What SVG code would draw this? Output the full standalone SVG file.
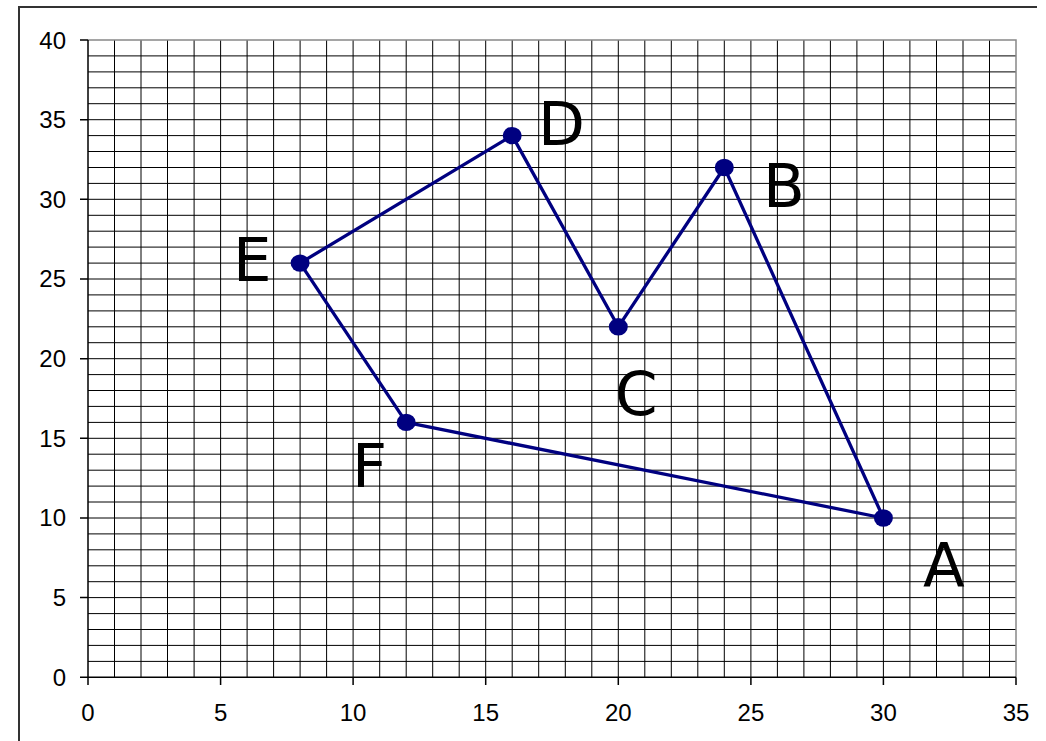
<svg xmlns="http://www.w3.org/2000/svg" width="1046" height="741" viewBox="0 0 1046 741">
<style>
.frame{fill:none;stroke:#333;stroke-width:2}
.grid{fill:none;stroke:#000;stroke-width:1}
.pborder{fill:none;stroke:#888;stroke-width:1.5}
.axis{fill:none;stroke:#000;stroke-width:1.5}
.num{font-family:"Liberation Sans",Arial,sans-serif;font-size:24px;fill:#000}
.ylab{text-anchor:end}
.xlab{text-anchor:middle}
.pt{fill:#000080}
.lbl{font-family:"DejaVu Sans",Verdana,sans-serif;font-size:61px;fill:#000}
.poly{fill:none;stroke:#000080;stroke-width:3.3;stroke-linejoin:round}
</style>
<rect width="1046" height="741" fill="#fff"/>
<path class="frame" d="M19,741 V7 H1037"/>
<g id="grid">
<path class="grid" d="M114.5,40V677.3M141,40V677.3M167.5,40V677.3M194.1,40V677.3M220.6,40V677.3M247.1,40V677.3M273.6,40V677.3M300.1,40V677.3M326.6,40V677.3M353.1,40V677.3M379.7,40V677.3M406.2,40V677.3M432.7,40V677.3M459.2,40V677.3M485.7,40V677.3M512.2,40V677.3M538.7,40V677.3M565.3,40V677.3M591.8,40V677.3M618.3,40V677.3M644.8,40V677.3M671.3,40V677.3M697.8,40V677.3M724.3,40V677.3M750.9,40V677.3M777.4,40V677.3M803.9,40V677.3M830.4,40V677.3M856.9,40V677.3M883.4,40V677.3M909.9,40V677.3M936.5,40V677.3M963,40V677.3M989.5,40V677.3"/>
<path class="grid" d="M88,661.4H1016M88,645.4H1016M88,629.5H1016M88,613.6H1016M88,597.6H1016M88,581.7H1016M88,565.8H1016M88,549.8H1016M88,533.9H1016M88,518H1016M88,502H1016M88,486.1H1016M88,470.2H1016M88,454.2H1016M88,438.3H1016M88,422.4H1016M88,406.4H1016M88,390.5H1016M88,374.6H1016M88,358.7H1016M88,342.7H1016M88,326.8H1016M88,310.9H1016M88,294.9H1016M88,279H1016M88,263.1H1016M88,247.1H1016M88,231.2H1016M88,215.3H1016M88,199.3H1016M88,183.4H1016M88,167.5H1016M88,151.5H1016M88,135.6H1016M88,119.7H1016M88,103.7H1016M88,87.8H1016M88,71.9H1016M88,55.9H1016"/>
<path class="pborder" d="M88,40H1016V677.3"/>
<path class="axis" d="M88,40V677.3H1016"/>
<path class="axis" d="M80,40H88M80,119.7H88M80,199.3H88M80,279H88M80,358.7H88M80,438.3H88M80,518H88M80,597.6H88M80,677.3H88"/>
<path class="axis" d="M88,677.3V685M220.6,677.3V685M353.1,677.3V685M485.7,677.3V685M618.3,677.3V685M750.9,677.3V685M883.4,677.3V685M1016,677.3V685"/>
</g>
<g id="axis-labels">
<text class="num ylab" x="66" y="48.5">40</text>
<text class="num ylab" x="66" y="128">35</text>
<text class="num ylab" x="66" y="207.5">30</text>
<text class="num ylab" x="66" y="287">25</text>
<text class="num ylab" x="66" y="367">20</text>
<text class="num ylab" x="66" y="446.5">15</text>
<text class="num ylab" x="66" y="526">10</text>
<text class="num ylab" x="66" y="606">5</text>
<text class="num ylab" x="66" y="685.5">0</text>
<text class="num xlab" x="88" y="721">0</text>
<text class="num xlab" x="220.6" y="721">5</text>
<text class="num xlab" x="353.1" y="721">10</text>
<text class="num xlab" x="485.7" y="721">15</text>
<text class="num xlab" x="618.3" y="721">20</text>
<text class="num xlab" x="750.9" y="721">25</text>
<text class="num xlab" x="883.4" y="721">30</text>
<text class="num xlab" x="1016" y="721">35</text>
</g>
<g id="connectors">
<polygon class="poly" points="883.4,518 724.3,167.5 618.3,326.8 512.2,135.6 300.1,263.1 406.2,422.4"/>
</g>
<g id="node-A"><ellipse class="pt" cx="883.4" cy="518" rx="9.5" ry="8.7"/><text class="lbl" x="923" y="586">A</text></g>
<g id="node-B"><ellipse class="pt" cx="724.3" cy="167.5" rx="9.5" ry="8.7"/><text class="lbl" x="763" y="207">B</text></g>
<g id="node-C"><ellipse class="pt" cx="618.3" cy="326.8" rx="9.5" ry="8.7"/><text class="lbl" x="615" y="415">C</text></g>
<g id="node-D"><ellipse class="pt" cx="512.2" cy="135.6" rx="9.5" ry="8.7"/><text class="lbl" x="538" y="145">D</text></g>
<g id="node-E"><ellipse class="pt" cx="300.1" cy="263.1" rx="9.5" ry="8.7"/><text class="lbl" x="233" y="281">E</text></g>
<g id="node-F"><ellipse class="pt" cx="406.2" cy="422.4" rx="9.5" ry="8.7"/><text class="lbl" x="352" y="487">F</text></g>
</svg>
